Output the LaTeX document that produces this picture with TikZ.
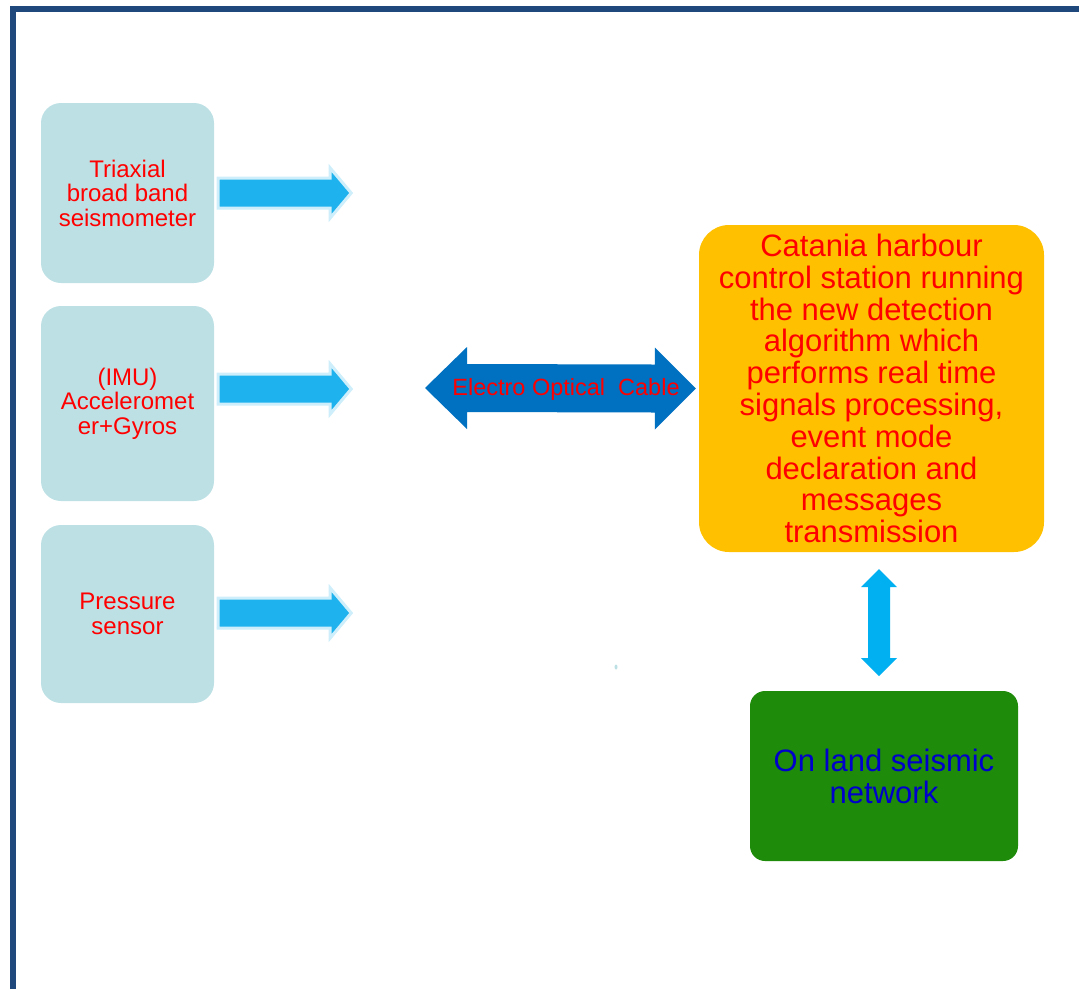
\documentclass[tikz,border=0pt]{standalone}
\usepackage{fontspec}
\setmainfont{Liberation Sans}
\usetikzlibrary{calc}
\definecolor{framecol}{RGB}{31,73,125}
\definecolor{sensorfill}{RGB}{188,224,228}
\definecolor{sensorarrowfill}{RGB}{30,178,238}
\definecolor{sensorhalo}{RGB}{205,238,250}
\definecolor{cablefill}{RGB}{0,112,192}
\definecolor{linkfill}{RGB}{0,176,240}
\definecolor{stationfill}{RGB}{255,192,0}
\definecolor{networkfill}{RGB}{30,139,10}
\definecolor{networktext}{RGB}{0,0,204}
\begin{document}
\begin{tikzpicture}[x=1pt,y=-1pt,
  sensor/.style={fill=sensorfill, rounded corners=20pt, text=red, align=center,
    font=\fontsize{24}{24.5}\selectfont, minimum width=173pt, inner sep=0pt},
  sensorarrow/.pic={
    \path[draw=sensorhalo, line width=3pt, fill=sensorarrowfill, line join=miter]
      (0,-15) -- (112,-15) -- (112,-25) -- (133,0) -- (112,25) -- (112,15) -- (0,15) -- cycle;
  },
  station/.style={fill=stationfill, rounded corners=30pt, text=red, align=center,
    font=\fontsize{31}{31.8}\selectfont, minimum width=345pt, minimum height=327pt, inner sep=0pt},
  network/.style={fill=networkfill, rounded corners=15pt, text=networktext, align=center,
    font=\fontsize{31}{32}\selectfont, minimum width=268pt, minimum height=170pt, inner sep=0pt},
  cablelabel/.style={text=red, font=\fontsize{23.5}{26}\selectfont, inner sep=0pt},
  framerule/.style={draw=framecol, line width=6pt, line join=miter},
]
\useasboundingbox (0,0) rectangle (1079,989);

% page frame
\draw[framerule] (13,989) -- (13,9) -- (1079,9);

% sensors
\node[sensor, minimum height=180pt] (triaxial) at (127.5,193) {Triaxial\\broad band\\seismometer};
\node[sensor, minimum height=195pt] (imu) at (127.5,403.5) {(IMU)\\Acceleromet\\er+Gyros};
\node[sensor, minimum height=178pt] (pressure) at (127.5,614) {Pressure\\sensor};

% sensor output arrows
\pic at ($(triaxial.east)+(4,0)$) {sensorarrow};
\pic at ($(imu.east)+(4,-14.5)$) {sensorarrow};
\pic at ($(pressure.east)+(4,-1)$) {sensorarrow};

% control station and on-land network
\node[station] (station) at (871.5,388.5) {Catania harbour\\control station running\\the new detection\\algorithm which\\performs real time\\signals processing,\\event mode\\declaration and\\messages\\transmission};
\node[network] (network) at (884,776) {On land seismic\\network};

% electro optical cable (double block arrow)
\coordinate (cableL) at (425,388);
\coordinate (cableR) at ($(station.west)+(-3,0)$);
\fill[cablefill] (cableL) -- ++(42,-41) -- ++(0,17) -- ($(cableR)+(-41,-24)$) -- ++(0,-17)
  -- (cableR) -- ++(-41,41) -- ++(0,-17) -- ($(cableL)+(42,24)$) -- ++(0,17) -- cycle;
\node[cablelabel] (cable) at (566,389) {Electro Optical\ \ Cable};

% link between station and network (vertical double block arrow)
\coordinate (linkT) at (879,569);
\coordinate (linkB) at (879,676);
\fill[linkfill] (linkT) -- ++(18,18) -- ++(-7,0) -- ($(linkB)+(11,-18)$) -- ++(7,0)
  -- (linkB) -- ++(-18,-18) -- ++(7,0) -- ($(linkT)+(-11,18)$) -- ++(-7,0) -- cycle;

% small speck
\fill[sensorfill] (616,667) ellipse (1.5 and 2.5);
\end{tikzpicture}
\end{document}
